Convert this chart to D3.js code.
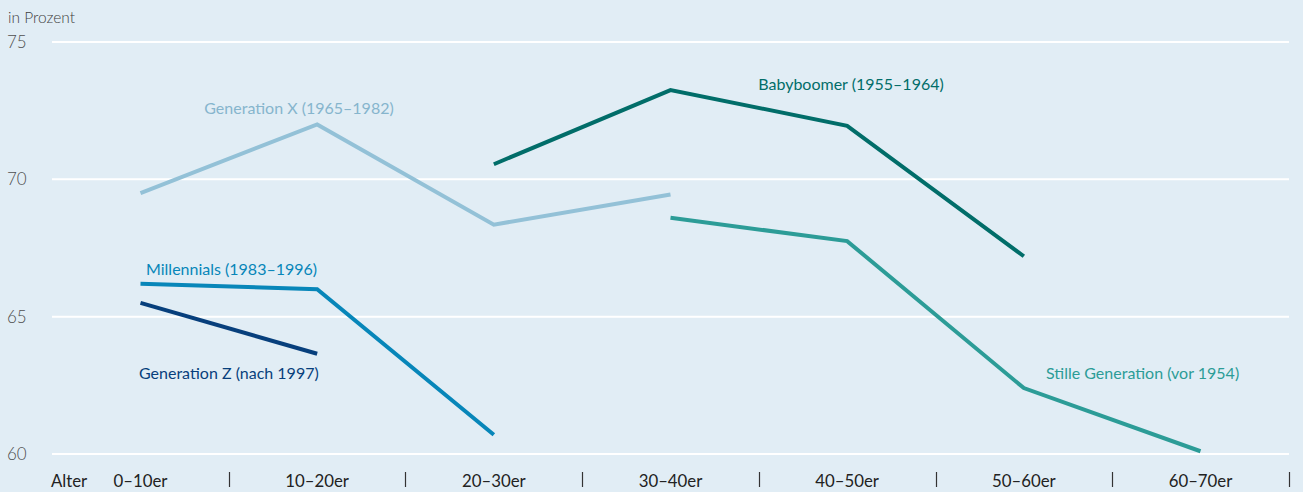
<!DOCTYPE html>
<html><head><meta charset="utf-8">
<script src="https://cdn.jsdelivr.net/npm/d3@7"></script>
<style>
html,body{margin:0;padding:0;background:#e1edf5;}
svg{display:block;font-family:Lato,"Open Sans",sans-serif;}
</style></head><body>
<svg id="c" width="1303" height="492"></svg>
<script>
const categories = ["0–10er","10–20er","20–30er","30–40er","40–50er","50–60er","60–70er"];
const yTicks = [60,65,70,75];
const genX = [69.5, 72.0, 68.35, 69.45, null, null, null];
const babyboomer = [null, null, 70.55, 73.25, 71.95, 67.2, null];
const stille = [null, null, null, 68.6, 67.75, 62.4, 60.1];
const millennials = [66.2, 66.0, 60.7, null, null, null, null];
const genZ = [65.5, 63.65, null, null, null, null, null];
const seriesNames = ["Generation X (1965–1982)","Babyboomer (1955–1964)","Stille Generation (vor 1954)","Millennials (1983–1996)","Generation Z (nach 1997)"];

const svg = d3.select("#c");
const x = d3.scalePoint().domain(categories).range([140.5, 1200.5]);
const y = d3.scaleLinear().domain([60,75]).range([454, 42]);
const step = x.step();

// gridlines
svg.append("g").selectAll("line").data(yTicks).join("line")
  .attr("x1",52).attr("x2",1289).attr("y1",d=>y(d)).attr("y2",d=>y(d))
  .attr("stroke","#ffffff").attr("stroke-width",2);

// y labels
svg.append("g").selectAll("text").data(yTicks).join("text")
  .attr("x",7).attr("y",d=>y(d)+6).text(d=>d)
  .attr("font-size",17).attr("font-weight",300).attr("fill","#4f4f4f");
svg.append("text").attr("x",8).attr("y",23).text("in Prozent")
  .attr("font-size",15.5).attr("font-weight",300).attr("fill","#3f3f3f");

// x labels
svg.append("text").attr("x",51).attr("y",487).text("Alter").attr("font-size",16.8).attr("fill","#222");
svg.append("g").selectAll("text").data(categories).join("text")
  .attr("x",d=>x(d)).attr("y",487).attr("text-anchor","middle").text(d=>d)
  .attr("font-size",16.8).attr("fill","#222");
svg.append("g").selectAll("line").data(categories).join("line")
  .attr("x1",d=>Math.round(x(d)+step/2)+0.5).attr("x2",d=>Math.round(x(d)+step/2)+0.5)
  .attr("y1",472).attr("y2",487).attr("stroke","#333").attr("stroke-width",1.2);

const series = [
  {vals:genX, color:"#93c1d7", name:seriesNames[0], lx:299, ly:114, anchor:"middle", tc:"#86b5cd"},
  {vals:babyboomer, color:"#016d69", name:seriesNames[1], lx:851, ly:90, anchor:"middle"},
  {vals:stille, color:"#2c9c97", name:seriesNames[2], lx:1046, ly:379, anchor:"start"},
  {vals:millennials, color:"#0786b9", name:seriesNames[3], lx:146, ly:275, anchor:"start"},
  {vals:genZ, color:"#073f7c", name:seriesNames[4], lx:139, ly:379, anchor:"start"}
];
const line = d3.line().defined(d=>d.v!=null).x(d=>x(d.c)).y(d=>y(d.v));
series.forEach(s=>{
  const data = categories.map((c,i)=>({c, v:s.vals[i]}));
  svg.append("path").datum(data).attr("d",line).attr("fill","none")
    .attr("stroke",s.color).attr("stroke-width",4).attr("stroke-linejoin","miter");
  svg.append("text").attr("x",s.lx).attr("y",s.ly).attr("text-anchor",s.anchor)
    .attr("font-size",16).attr("fill",s.tc||s.color).text(s.name);
});
</script></body></html>
